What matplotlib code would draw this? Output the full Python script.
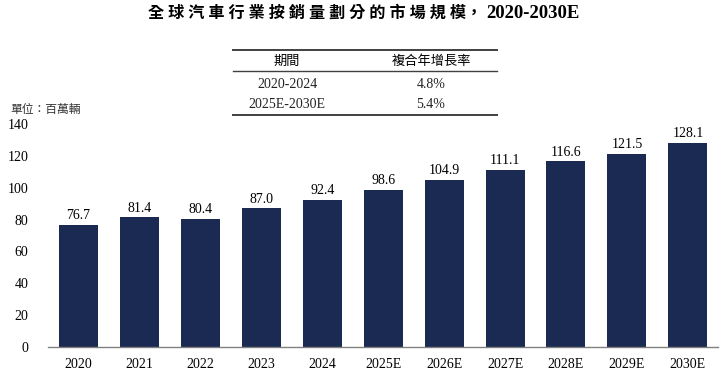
import matplotlib
matplotlib.use("Agg")
import matplotlib.pyplot as plt
from matplotlib.lines import Line2D

# Chart data
years = ["2020", "2021", "2022", "2023", "2024", "2025E", "2026E",
         "2027E", "2028E", "2029E", "2030E"]
sales = [76.7, 81.4, 80.4, 87.0, 92.4, 98.6, 104.9, 111.1, 116.6, 121.5, 128.1]
y_ticks = [0, 20, 40, 60, 80, 100, 120, 140]

# CAGR table
table_header = ["期間", "複合年增長率"]
periods = ["2020-2024", "2025E-2030E"]
cagr = ["4.8%", "5.4%"]

serif = ["Liberation Serif", "Noto Sans CJK TC"]
cjk = ["Noto Sans CJK TC", "DejaVu Sans"]
bar_color = "#1a2a53"

fig = plt.figure(figsize=(7.2, 3.74), dpi=100)
ax = fig.add_axes([0.0667, 0.0722, 0.931, 0.596])

x = range(len(years))
bars = ax.bar(x, sales, width=0.64, color=bar_color)
for b, v in zip(bars, sales):
    ax.annotate(f"{v:.1f}", (b.get_x() + b.get_width() / 2, v),
                xytext=(0, 2), textcoords="offset points",
                ha="center", va="bottom", fontsize=10, family=serif)

ax.set_xlim(-0.5, 10.5)
ax.set_ylim(0, 140)
ax.set_yticks(y_ticks)
ax.set_yticklabels([str(t) for t in y_ticks], family=serif, fontsize=10)
ax.set_xticks(list(x))
ax.set_xticklabels(years, family=serif, fontsize=10)
ax.tick_params(length=0, pad=8)
ax.tick_params(axis="y", pad=14)
for s in ["top", "right", "left"]:
    ax.spines[s].set_visible(False)
ax.spines["bottom"].set_color("#808080")
ax.spines["bottom"].set_linewidth(1.0)

W, H = 720, 374
def fy(py):
    return 1 - py / H

# Title: spaced CJK part, then the year range in bold serif
title_cjk = " ".join("全球汽車行業按銷量劃分的市場規模") + "，"
fig.text(148 / W, fy(14), title_cjk, family=serif,
         fontsize=11.6, fontweight="bold", ha="left", va="center")
fig.text(486 / W, fy(14), "2020-2030E", family=serif,
         fontsize=13.5, fontweight="bold", ha="left", va="center")

# Unit label
fig.text(10 / W, fy(110), "單位：百萬輛", family=cjk, fontsize=8.5,
         color="#333333", ha="left", va="center", style="italic")

# CAGR table
x0, x1 = 233 / W, 497 / W
for py, lw in [(50, 1.4), (71, 1.0), (115, 1.4)]:
    fig.add_artist(Line2D([x0, x1], [fy(py), fy(py)], color="#404040", lw=lw))
col_x = [287 / W, 431 / W]
for cx, h in zip(col_x, table_header):
    fig.text(cx, fy(61), h, family=cjk, fontsize=9.5, fontweight="medium",
             ha="center", va="center")
for py, p, c in zip([84, 105], periods, cagr):
    fig.text(col_x[0], fy(py), p, family=serif, fontsize=10,
             color="#222222", ha="center", va="center")
    fig.text(col_x[1], fy(py), c, family=serif, fontsize=10,
             color="#222222", ha="center", va="center")

fig.savefig("out.png", dpi=100)
